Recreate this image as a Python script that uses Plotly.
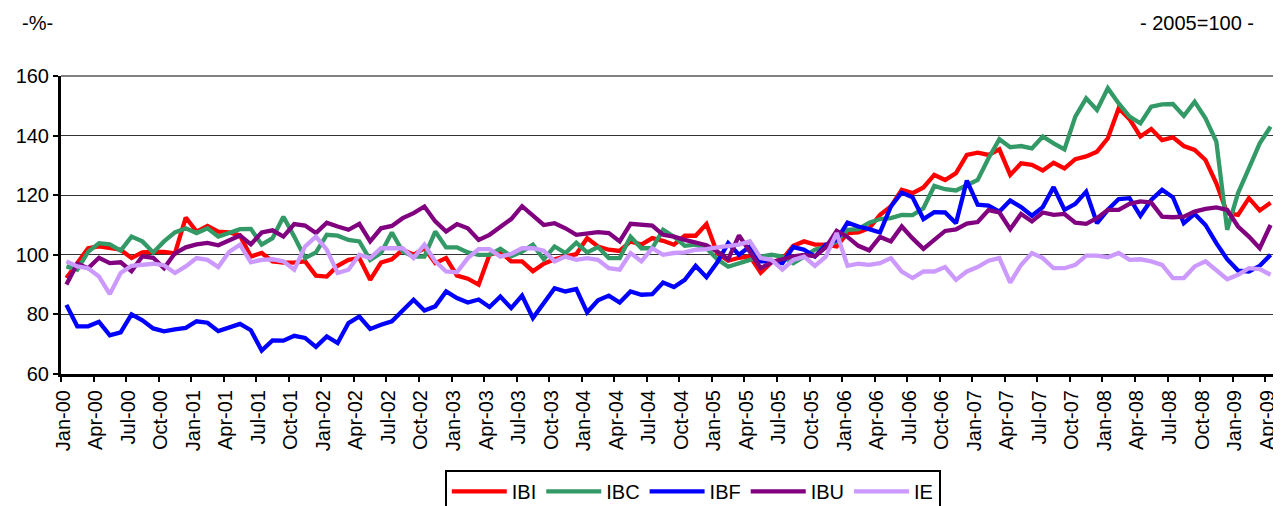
import plotly.graph_objects as go

months = ["Jan", "Feb", "Mar", "Apr", "May", "Jun", "Jul", "Aug", "Sep", "Oct", "Nov", "Dec"]
categories = [f"{months[i % 12]}-{(i // 12):02d}" for i in range(112)]

IBI = [92.2, 97.2, 102.2, 102.8, 102.2, 101.7, 98.9, 100.8, 101, 101, 100.5, 112.5,
       107.8, 109.7, 107.8, 107.5, 106.5, 99.4, 100.6, 97.8, 97.4, 97.4, 97.8, 93,
       92.7, 96.3, 98.3, 98.9, 91.6, 97.4, 98.5, 101.7, 100, 102.2, 97.2, 98.9,
       93, 92, 90, 100, 101, 97.8, 97.8, 94.5, 97, 98.5, 99.5, 100.2,
       105.6, 102.8, 101.7, 101.3, 104.5, 103.4, 105.6, 104.7, 103.4, 106.4, 106.4, 110.3,
       100.5, 98, 99, 99.5, 94, 97.5, 98.5, 103, 104.5, 103.4, 103.4, 102.8,
       107.3, 107.5, 108.9, 113.4, 116.2, 121.8, 120.7, 122.6, 126.8, 125.1, 127.4, 133.5,
       134.3, 133.5, 135.4, 126.8, 130.7, 130.2, 128.3, 130.9, 129, 132.1, 133, 134.6,
       139.1, 149.2, 145.5, 139.7, 142.2, 138.5, 139.4, 136.5, 135.2, 131.8, 124, 114,
       113.4, 119, 114.9, 117.5]

IBC = [96.1, 95, 101, 103.9, 103.5, 101.4, 106.1, 104.5, 100.8, 104.5, 107.5, 108.9,
       107.3, 108.9, 106.1, 107.3, 108.6, 108.7, 103.4, 105.6, 112.8, 106.1, 98.9, 100.8,
       106.7, 106.4, 105, 104.5, 98.3, 100.6, 107.5, 101.1, 99.4, 99.4, 107.8, 102.5,
       102.5, 100.8, 100, 100, 102, 99.5, 101.1, 103.4, 98.5, 102.8, 100.6, 104.1,
       100.8, 102.6, 98.9, 98.9, 106.1, 102.2, 102.2, 108.4, 106.1, 103, 103.4, 102.2,
       98.5, 96, 97, 98.3, 99.4, 100, 99.4, 97.2, 99.4, 101.7, 102.8, 104.5,
       108.4, 108.6, 110.8, 112, 112.3, 113.4, 113.3, 115.6, 123.1, 122, 121.6, 123.5,
       125.1, 132.4, 138.8, 136.1, 136.5, 135.7, 139.7, 137.4, 135.4, 146.4, 152.5, 148.6,
       155.9, 150.8, 146.4, 144.1, 149.7, 150.5, 150.6, 146.6, 151.4, 145.8, 138, 108.4,
       120.7, 129, 137.4, 143]

IBF = [83.2, 76, 76, 77.5, 73, 74, 80, 78, 75.3, 74.3, 75, 75.5,
       77.7, 77.2, 74.4, 75.5, 76.8, 74.7, 67.9, 71.3, 71.2, 72.8, 72.1, 69.1,
       72.6, 70.4, 77.1, 79.3, 75.1, 76.5, 77.7, 81.3, 84.9, 81.3, 82.7, 87.7,
       85.5, 84, 85, 82.5, 86, 82.1, 86.3, 78.8, 83.8, 88.8, 87.7, 88.5,
       80.7, 84.7, 86.3, 84, 87.7, 86.6, 86.8, 90.7, 89.2, 91.6, 96.3, 92.5,
       97.5, 103.9, 100, 102.8, 97.8, 97.8, 97.2, 102.6, 101.7, 99.4, 103.4, 105,
       110.8, 109.5, 108.6, 107.5, 116.2, 120.9, 119.3, 112, 114.3, 114.2, 110.6, 124.9,
       116.8, 116.5, 114.5, 118.2, 116, 113.1, 116, 122.7, 115.1, 117.1, 121.2, 110.6,
       115.1, 118.7, 119, 113.1, 118.4, 121.8, 119.3, 110.6, 113.7, 110, 103.9, 98.5,
       94.7, 94.4, 96.3, 100]

IBU = [90, 97, 95.5, 99, 97.2, 97.5, 94.5, 99.5, 99, 95.5, 100.5, 102.5,
       103.5, 104, 103.2, 104.8, 106.5, 103.5, 107.5, 108.2, 106.1, 110.3, 109.8, 107.3,
       110.8, 109.5, 108.4, 110.4, 104.5, 108.9, 109.7, 112.3, 114, 116.2, 111.2, 107.8,
       110.3, 108.9, 105, 106.7, 109.5, 112, 116.3, 113, 110, 110.6, 108.9, 106.7,
       107.3, 107.6, 107.3, 104.5, 110.4, 110, 109.8, 106.7, 106.1, 105, 104.1, 103.2,
       101.1, 98.5, 106.5, 101, 95.5, 97.5, 98.5, 99.5, 100, 99.5, 102.5, 108,
       106, 103, 101.5, 106, 104.5, 109.5, 105.5, 102, 105, 108, 108.5, 110.5,
       111, 115, 114.2, 108.6, 113.7, 111.2, 114.2, 113.4, 113.7, 110.8, 110.4, 112.3,
       115.1, 115.1, 117.1, 117.9, 117.5, 112.8, 112.6, 112.8, 114.5, 115.4, 115.9, 115.1,
       109.5, 106.1, 102.2, 110]

IE = [97.8, 96.1, 95.5, 92.7, 86.8, 93.9, 96.3, 96.6, 97, 96.5, 93.9, 96.1,
      98.9, 98.3, 95.9, 101, 103.4, 97.5, 98.3, 98.5, 97.8, 95, 102.8, 106.1,
      101.7, 93.9, 95, 100, 98.9, 102.2, 102.2, 102.2, 98.9, 103.4, 97.8, 94.4,
      94.1, 98.9, 101.9, 101.9, 99.4, 100.3, 102.2, 102.2, 101.4, 97.8, 99.4, 98.3,
      98.9, 98.3, 95.5, 95, 100.6, 97.8, 102.2, 100, 100.6, 100.8, 101.7, 101.9,
      102.5, 103, 103.4, 104.5, 98.9, 98.3, 95, 98.3, 99.4, 96.3, 99.4, 107.3,
      96.3, 97, 96.6, 97.2, 98.9, 94.4, 92.2, 94.4, 94.4, 95.9, 91.6, 94.4,
      95.9, 98, 98.9, 90.7, 96.6, 100.6, 98.9, 95.5, 95.5, 96.6, 99.7, 99.7,
      99.2, 100.6, 98.3, 98.5, 97.8, 96.6, 92.2, 92.2, 96.1, 97.8, 95, 91.8,
      93.3, 95.5, 95.2, 93.3]

series = [("IBI", IBI, "#FF0000"), ("IBC", IBC, "#339966"), ("IBF", IBF, "#0000FF"),
          ("IBU", IBU, "#800080"), ("IE", IE, "#CC99FF")]

y_ticks = [60, 80, 100, 120, 140, 160]
label_idx = list(range(0, 112, 3))
tick_labels = [categories[i] for i in label_idx]

xs = list(range(len(categories)))
fig = go.Figure()
for name, vals, col in series:
    assert len(vals) == len(categories), (name, len(vals))
    fig.add_trace(go.Scatter(x=xs, y=vals, mode="lines", name=name,
                             line=dict(color=col, width=4.3), hovertext=categories))

font = "Liberation Sans, Arial, sans-serif"
# the page body adds an 8px margin, so the figure is 8px smaller than the window
fig.update_layout(
    width=1273, height=498,
    margin=dict(l=53, r=5, t=68, b=132, autoexpand=False),
    paper_bgcolor="white", plot_bgcolor="white",
    font=dict(family=font, size=20, color="black"),
    showlegend=True,
    legend=dict(orientation="h", x=0.52, xanchor="center", y=-0.322, yanchor="top",
                bordercolor="black", borderwidth=2, bgcolor="white",
                font=dict(size=20), itemwidth=55, tracegroupgap=0),
    xaxis=dict(range=[-0.5, 111.5], tickmode="array", automargin=False,
               tickvals=[i - 0.5 for i in label_idx], ticktext=tick_labels,
               tickangle=-90, ticks="outside", ticklen=5, tickwidth=2, tickcolor="black",
               ticklabelshift=2,
               showline=True, linecolor="black", linewidth=3, mirror=False,
               showgrid=False, zeroline=False, tickfont=dict(size=20)),
    yaxis=dict(range=[60, 160], tickvals=y_ticks, ticks="outside", ticklen=5,
               tickwidth=2, tickcolor="black", automargin=False,
               showline=True, linecolor="black", linewidth=3,
               showgrid=True, gridcolor="#333333", gridwidth=1, zeroline=False,
               tickfont=dict(size=20)),
    shapes=[dict(type="line", xref="paper", yref="paper", x0=1, x1=1, y0=0, y1=1,
                 line=dict(color="#808080", width=2)),
            dict(type="line", xref="paper", yref="paper", x0=0, x1=1, y0=1, y1=1,
                 line=dict(color="#808080", width=2))],
    annotations=[
        dict(text="-%-", xref="paper", yref="paper", x=-0.034, y=1.178,
             xanchor="left", yanchor="middle", showarrow=False, font=dict(size=20)),
        dict(text="- 2005=100 -", xref="paper", yref="paper", x=0.9835, y=1.178,
             xanchor="right", yanchor="middle", showarrow=False, font=dict(size=20)),
    ],
)

fig.write_html("out.html")
